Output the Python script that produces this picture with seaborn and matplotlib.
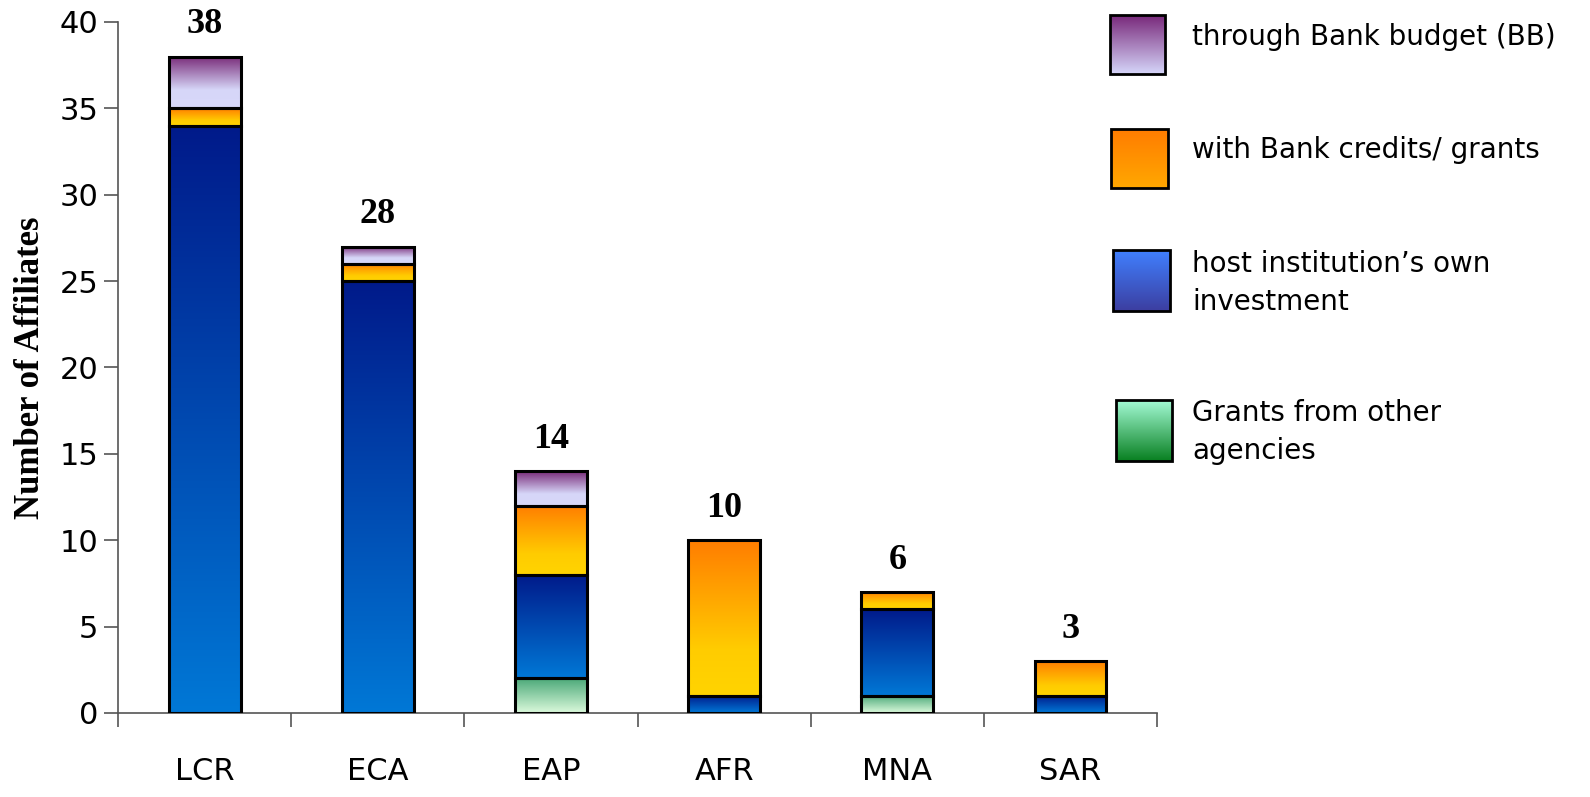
import numpy as np
import pandas as pd
import matplotlib.pyplot as plt
import seaborn as sns
from matplotlib.colors import LinearSegmentedColormap

sns.set_style("white")
plt.rcParams["text.color"] = "black"
plt.rcParams["xtick.color"] = "black"
plt.rcParams["ytick.color"] = "black"
plt.rcParams["axes.labelcolor"] = "black"

# data
regions = ["LCR", "ECA", "EAP", "AFR", "MNA", "SAR"]
grants_other = [0, 0, 2, 0, 1, 0]
host_own = [34, 25, 6, 1, 5, 1]
bank_credits = [1, 1, 4, 9, 1, 2]
bank_budget = [3, 1, 2, 0, 0, 0]
top_labels = ["38", "28", "14", "10", "6", "3"]

legend_names = ["through Bank budget (BB)", "with Bank credits/ grants",
                "host institution\u2019s own\ninvestment", "Grants from other\nagencies"]

# gradients: (top colour, bottom colour) for bars, and for legend swatches
bar_grad = {
    "grants": [(0, "#4aa878"), (1, "#dcfadc")],
    "host": [(0, "#001a8a"), (1, "#0078d6")],
    "credits": [(0, "#ff7d00"), (0.7, "#ffcc00"), (1, "#ffd400")],
    "budget": [(0, "#782a78"), (0.65, "#d6d6f8"), (1, "#d8d8fa")],
}
leg_grad = {
    "budget": [(0, "#78287a"), (1, "#d6d6fa")],
    "credits": [(0, "#ff7c00"), (1, "#ffa800")],
    "host": [(0, "#4080ff"), (1, "#3c3ea0")],
    "grants": [(0, "#a4fad6"), (1, "#088020")],
}

df = pd.DataFrame({"region": regions, "grants": grants_other, "host": host_own,
                   "credits": bank_credits, "budget": bank_budget})

fig = plt.figure(figsize=(15.9, 7.97), dpi=100)
ax = fig.add_axes([0.0742, 0.1054, 0.6535, 0.867])

grad = np.linspace(0, 1, 256).reshape(-1, 1)
bottom = np.zeros(len(regions))
for layer in ["grants", "host", "credits", "budget"]:
    vals = df[layer].to_numpy(dtype=float)
    n_before = len(ax.patches)
    sns.barplot(data=df, x="region", y=layer, bottom=bottom, ax=ax, width=0.415,
                color="white", edgecolor="black", linewidth=2.2, zorder=3)
    cmap = LinearSegmentedColormap.from_list(layer, bar_grad[layer])
    for p, v in zip(ax.patches[n_before:], vals):
        p.set_facecolor("none")
        if v <= 0:
            p.set_visible(False)
            continue
        x0, y0 = p.get_x(), p.get_y()
        w, h = p.get_width(), p.get_height()
        ax.imshow(grad, cmap=cmap, aspect="auto", extent=[x0, x0 + w, y0, y0 + h],
                  origin="upper", zorder=2, interpolation="bilinear")
    bottom = bottom + vals

for i, lab in enumerate(top_labels):
    ax.text(i, bottom[i] + 0.9, lab, ha="center", va="bottom", fontsize=26,
            fontweight="bold", family="Liberation Serif", clip_on=False)

ax.set_xlim(-0.5, 5.5)
ax.set_ylim(0, 40)
ax.set_yticks(range(0, 41, 5))
ax.set_xticks(range(len(regions)))
ax.set_xticklabels(regions)
ax.set_xticks(np.arange(-0.5, 6, 1), minor=True)
ax.tick_params(axis="x", which="major", bottom=True, length=0, pad=32, labelsize=22)
ax.tick_params(axis="x", which="minor", bottom=True, length=10, width=1.2,
               color="#555555", direction="out")
ax.tick_params(axis="y", left=True, length=10, width=1.2, color="#555555",
               direction="out", labelsize=22, pad=4)
ax.set_xlabel("")
ax.set_ylabel("Number of Affiliates", fontsize=25, fontweight="bold",
              family="Liberation Serif", labelpad=9)
for s in ["top", "right"]:
    ax.spines[s].set_visible(False)
for s in ["left", "bottom"]:
    ax.spines[s].set_color("#555555")
    ax.spines[s].set_linewidth(1.2)

# legend with gradient swatches, drawn in figure pixels
leg = fig.add_axes([0, 0, 1, 1], zorder=5)
leg.set_xlim(0, 1590)
leg.set_ylim(797, 0)
leg.axis("off")
sw = [(1110, 15, 55, 59), (1111, 129, 57, 59), (1113, 250, 57, 61), (1116, 400, 56, 61)]
text_y = [37, 150, 283, 432]
for key, (x, y, w, h), name, ty in zip(["budget", "credits", "host", "grants"], sw, legend_names, text_y):
    cmap = LinearSegmentedColormap.from_list("l" + key, leg_grad[key])
    leg.imshow(grad, cmap=cmap, aspect="auto", extent=[x, x + w, y + h, y],
               origin="upper", interpolation="bilinear")
    leg.add_patch(plt.Rectangle((x, y), w, h, facecolor="none", edgecolor="black", linewidth=2))
    leg.text(1192, ty, name, ha="left", va="center", fontsize=20, linespacing=1.45)
leg.set_xlim(0, 1590)
leg.set_ylim(797, 0)

fig.savefig("out.png", dpi=100)
